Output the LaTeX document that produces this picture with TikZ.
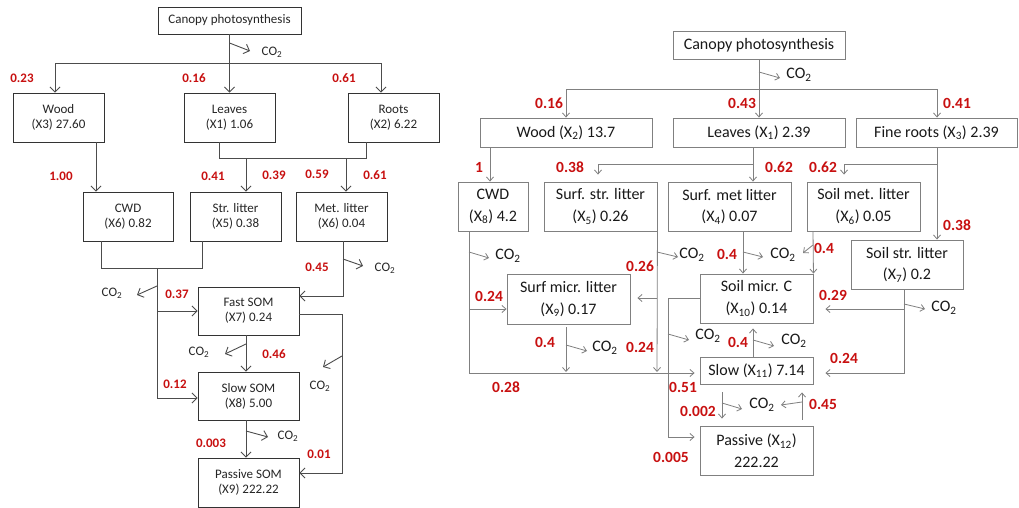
\documentclass[tikz,border=0pt]{standalone}
\usepackage{fontspec}
\setmainfont{Carlito}
\usetikzlibrary{arrows.meta}
\definecolor{lblred}{RGB}{200,16,16}
\newcommand\lfs{\fontsize{13}{15}\selectfont}
\newcommand\rfs{\fontsize{16}{21.5}\selectfont}
\newcommand\lnfs{\fontsize{13}{15}\selectfont}
\newcommand\rnfs{\fontsize{15.5}{21}\selectfont}
\newcommand\cotwo{CO\textsubscript{2}}
\begin{document}
\begin{tikzpicture}[x=1pt,y=-1pt,
 lbox/.style={draw=black!80,line width=0.9pt,align=center,inner sep=0pt,font=\lfs,text=black!85},
 rbox/.style={draw=black!50,line width=0.9pt,align=center,inner sep=0pt,font=\rfs,text=black!90},
 lline/.style={draw=black!70,line width=0.9pt},
 larr/.style={lline,-{Straight Barb[length=5pt,width=10pt]}},
 rline/.style={draw=black!50,line width=0.8pt},
 rarr/.style={rline,-{Straight Barb[length=4pt,width=7pt]}},
 lnum/.style={text=lblred,font=\lnfs\bfseries,inner sep=0pt},
 rnum/.style={text=lblred,font=\rnfs\bfseries,inner sep=0pt},
 lco/.style={font=\lfs,inner sep=0pt,text=black!85},
 rco/.style={font=\rfs,inner sep=0pt,text=black!90},
]
\path[use as bounding box,fill=white] (0,0) rectangle (1019,508);

%% ================= LEFT PANEL =================
\node[lbox,minimum width=143,minimum height=27] (lcan) at (229.5,20.5) {Canopy photosynthesis};
\node[lbox,minimum width=91,minimum height=49] (lwood) at (58.5,117.5) {Wood\\(X3) 27.60};
\node[lbox,minimum width=91,minimum height=49] (lleaves) at (229.5,117.5) {Leaves\\(X1) 1.06};
\node[lbox,minimum width=91,minimum height=49] (lroots) at (393.5,117.5) {Roots\\(X2) 6.22};
\node[lbox,minimum width=90,minimum height=49] (lcwd) at (128,216.5) {CWD\\(X6) 0.82};
\node[lbox,minimum width=91,minimum height=49] (lstr) at (235.5,216.5) {Str. litter\\(X5) 0.38};
\node[lbox,minimum width=91,minimum height=49] (lmet) at (341.5,216.5) {Met. litter\\(X6) 0.04};
\node[lbox,minimum width=101,minimum height=48] (lfast) at (248.5,311) {Fast SOM\\(X7) 0.24};
\node[lbox,minimum width=101,minimum height=48] (lslow) at (248.5,396) {Slow SOM\\(X8) 5.00};
\node[lbox,minimum width=101,minimum height=49] (lpass) at (248.5,482.5) {Passive SOM\\(X9) 222.22};

\coordinate (lj) at (229.5,63);
\draw[larr] (lcan.south) -- (lleaves.north);
\draw[larr] (lj) -| ([xshift=-3.5]lwood.north);
\draw[larr] (lj) -| ([xshift=-12.5]lroots.north);
\draw[larr] (229.5,43) -- (250,51);
\node[lco] (lc0) at (272,52) {\cotwo};

\draw[larr] ([xshift=37.5]lwood.south) -- ([xshift=-32]lcwd.north);
\draw[lline] ([xshift=-10.5]lleaves.south) |- (366,158) -- ([xshift=-27.5]lroots.south);
\draw[larr] (246,158) -- ([xshift=10.5]lstr.north);
\draw[larr] (346,158) -- ([xshift=4.5]lmet.north);

\coordinate (lm) at (157,268);
\draw[lline] ([xshift=-27]lcwd.south) |- (202,268) -- ([xshift=-33.5]lstr.south);
\draw[larr] (lm) |- ([yshift=-2]lslow.west);
\coordinate (lfb) at (157,311);
\draw[larr] (lfb) -- (lfast.west);
\draw[larr] (157,286) -- (137,295);
\node[lco] (lc1) at (112,293) {\cotwo};

\draw[larr] ([xshift=1.5]lmet.south) |- ([yshift=15]lfast.east);
\draw[larr] (343,259) -- (363,266);
\node[lco] (lc2) at (385,268) {\cotwo};

\draw[larr] ([yshift=-3]lfast.east) -- (342,314) |- ([yshift=9.5]lpass.east);
\draw[larr] (342,356) -- (323,367);
\node[lco] (lc3) at (320,386) {\cotwo};

\draw[larr] ([xshift=-2.5]lfast.south) -- ([xshift=-2.5]lslow.north);
\draw[larr] (246,344) -- (225,354);
\node[lco] (lc4) at (199,352) {\cotwo};
\draw[larr] ([xshift=-2.5]lslow.south) -- ([xshift=-2.5]lpass.north);
\draw[larr] (246,431) -- (268,437);
\node[lco] (lc5) at (288,436) {\cotwo};

\node[lnum] (ln1) at (22,78) {0.23};
\node[lnum] (ln2) at (194,78) {0.16};
\node[lnum] (ln3) at (344,78) {0.61};
\node[lnum] (ln4) at (61,176) {1.00};
\node[lnum] (ln5) at (213,176) {0.41};
\node[lnum] (ln6) at (274,175) {0.39};
\node[lnum] (ln7) at (317,174) {0.59};
\node[lnum] (ln8) at (375,175) {0.61};
\node[lnum] (ln9) at (317,267) {0.45};
\node[lnum] (ln10) at (177,294) {0.37};
\node[lnum] (ln11) at (274,354) {0.46};
\node[lnum] (ln12) at (175,384) {0.12};
\node[lnum] (ln13) at (211,443) {0.003};
\node[lnum] (ln14) at (319,454) {0.01};

%% ================= RIGHT PANEL =================
\node[rbox,minimum width=172,minimum height=28] (rcan) at (759,45) {Canopy photosynthesis};
\node[rbox,minimum width=172,minimum height=29] (rwood) at (566,132.5) {Wood (X\textsubscript{2}) 13.7};
\node[rbox,minimum width=172,minimum height=29] (rleaves) at (759,132.5) {Leaves (X\textsubscript{1}) 2.39};
\node[rbox,minimum width=161,minimum height=29] (rroots) at (936.5,132.5) {Fine roots (X\textsubscript{3}) 2.39};
\node[rbox,minimum width=70,minimum height=49] (rcwd) at (493,206.5) {CWD\\(X\textsubscript{8}) 4.2};
\node[rbox,minimum width=113,minimum height=49] (rsstr) at (600.5,206.5) {Surf. str. litter\\(X\textsubscript{5}) 0.26};
\node[rbox,minimum width=123,minimum height=49] (rsmet) at (729.5,206.5) {Surf. met litter\\(X\textsubscript{4}) 0.07};
\node[rbox,minimum width=113,minimum height=49] (rlmet) at (863.5,206.5) {Soil met. litter\\(X\textsubscript{6}) 0.05};
\node[rbox,minimum width=112,minimum height=49] (rlstr) at (907,264.5) {Soil str. litter\\(X\textsubscript{7}) 0.2};
\node[rbox,minimum width=123,minimum height=50] (rsmicr) at (568.5,299) {Surf micr. litter\\(X\textsubscript{9}) 0.17};
\node[rbox,minimum width=113,minimum height=49] (rlmicr) at (756.5,298.5) {Soil micr. C\\(X\textsubscript{10}) 0.14};
\node[rbox,minimum width=113,minimum height=27] (rslow) at (756.5,370.5) {Slow (X\textsubscript{11}) 7.14};
\node[rbox,minimum width=113,minimum height=49] (rpass) at (756.5,450.5) {Passive (X\textsubscript{12})\\222.22};

\coordinate (rj) at (759,89);
\draw[rarr] (rcan.south) -- (rleaves.north);
\draw[rarr] (rj) -| (rwood.north);
\draw[rarr] (rj) -| ([xshift=0.5]rroots.north);
\draw[rarr] (759,72) -- (780,78);
\node[rco] (rc0) at (799,75) {\cotwo};

\draw[rarr] ([xshift=-76]rwood.south) -- ([xshift=-3]rcwd.north);
\draw[rarr] ([xshift=-6]rleaves.south) -- ([xshift=23.5]rsmet.north);
\coordinate (rlj) at (753,164);
\draw[rarr,shorten >=7pt] (rlj) -| ([xshift=-2.5]rsstr.north);
\draw[rarr] ([xshift=0.5]rroots.south) -- ([xshift=30]rlstr.north);
\coordinate (rrj) at (937,164);
\draw[rarr,shorten >=7pt] (rrj) -| ([xshift=-19.5]rlmet.north);

% CWD
\draw[rarr,shorten >=5pt] ([xshift=-24]rcwd.south) |- ([yshift=-2.5]rslow.west);
\coordinate (rcb) at (469,309);
\draw[rarr] (rcb) -- (rcb -| rsmicr.west);
\draw[rarr] (469,252) -- (489,258);
\node[rco] (rc1) at (508,256) {\cotwo};

% Surf str
\draw[rarr] (rsstr.south east) -- (657,372);
\coordinate (rsb) at (657,298);
\draw[rarr,shorten >=7pt] (rsb) -- (rsb -| rsmicr.east);
\draw[rarr] (657,252) -- (678,257);
\node[rco] (rc2) at (692,255) {\cotwo};

% Surf micr
\draw[rarr] ([xshift=-2.5,yshift=-3]rsmicr.south) -- (566,372);
\draw[rarr] (566,345) -- (587,351);
\node[rco] (rc3) at (605,348) {\cotwo};

% Surf met / soil met
\draw[rarr] ([xshift=13.5]rsmet.south) -- ([xshift=-13.5]rlmicr.north);
\draw[rarr] (743,252) -- (763,257);
\node[rco] (rc4) at (783,255) {\cotwo};
\draw[rarr] ([xshift=-50.5]rlmet.south) -- (rlmicr.north east);
\draw[rarr] (813,245) -- (803,253);

% Soil micr
\coordinate (rml) at (668,298.5);
\draw[rarr,shorten >=5pt] (rlmicr.west) -- (rml) |- ([yshift=13.5]rpass.west);
\draw[rarr] (668,334) -- (689,340);
\node[rco] (rc5) at (708,336) {\cotwo};

% Slow
\draw[rarr,shorten >=5pt] ([xshift=-3.5]rslow.north) -- ([xshift=-3.5]rlmicr.south);
\draw[rarr] (753,340) -- (774,346);
\node[rco] (rc6) at (794,341) {\cotwo};
\draw[rarr,shorten <=8pt,shorten >=7pt] ([xshift=-34.5]rslow.south) -- ([xshift=-34.5]rpass.north);
\draw[rarr,shorten <=6pt,shorten >=8pt] ([xshift=45.5]rpass.north) -- ([xshift=45.5]rslow.south);
\draw[rarr] (722,403) -- (742,409);
\draw[rarr] (802,402) -- (781,405);
\node[rco] (rc7) at (762,405) {\cotwo};

% Soil str
\draw[rarr,shorten >=12pt] ([xshift=-3]rlstr.south) |- ([yshift=-2.5]rslow.east);
\coordinate (rsj) at (904,309);
\draw[rarr,shorten >=12pt] (rsj) -- (rsj -| rlmicr.east);
\draw[rarr] (904,304) -- (925,309);
\node[rco] (rc8) at (944,308) {\cotwo};

\node[rnum] (rn1) at (549,103) {0.16};
\node[rnum] (rn2) at (742,103) {0.43};
\node[rnum] (rn3) at (957,103) {0.41};
\node[rnum] (rn4) at (479,167) {1};
\node[rnum] (rn5) at (570,167) {0.38};
\node[rnum] (rn6) at (779,167) {0.62};
\node[rnum] (rn7) at (823,167) {0.62};
\node[rnum] (rn8) at (957,225) {0.38};
\node[rnum] (rn9) at (640,266) {0.26};
\node[rnum] (rn10) at (727,254) {0.4};
\node[rnum] (rn11) at (824,248) {0.4};
\node[rnum] (rn12) at (489,296) {0.24};
\node[rnum] (rn13) at (833,295) {0.29};
\node[rnum] (rn14) at (545,342) {0.4};
\node[rnum] (rn15) at (640,347) {0.24};
\node[rnum] (rn16) at (738,342) {0.4};
\node[rnum] (rn17) at (844,358) {0.24};
\node[rnum] (rn18) at (506,387) {0.28};
\node[rnum] (rn19) at (683,387) {0.51};
\node[rnum] (rn20) at (698,411) {0.002};
\node[rnum] (rn21) at (823,404) {0.45};
\node[rnum] (rn22) at (671,457) {0.005};
\end{tikzpicture}
\end{document}
